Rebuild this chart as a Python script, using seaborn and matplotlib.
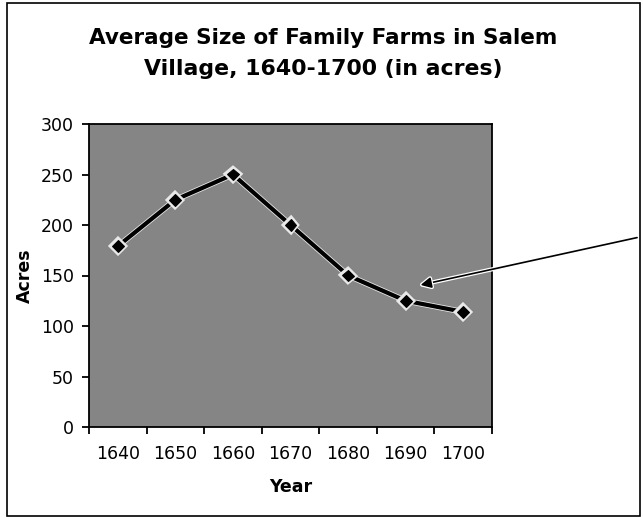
import pandas as pd
import matplotlib
matplotlib.use("Agg")
import matplotlib.pyplot as plt
import matplotlib.patheffects as pe
from matplotlib.patches import Rectangle
import seaborn as sns

# valores
years = ["1640", "1650", "1660", "1670", "1680", "1690", "1700"]
acres = [179, 225, 250, 200, 150, 125, 114]
y_ticks = [0, 50, 100, 150, 200, 250, 300]

title_lines = ["Average Size of Family Farms in Salem", "Village, 1640-1700 (in acres)"]

df = pd.DataFrame({"Year": years, "Acres": acres})

sns.set_style("white")
plt.rcParams["font.family"] = ["DejaVu Sans"]
plt.rcParams["text.color"] = "black"
plt.rcParams["axes.labelcolor"] = "black"
plt.rcParams["xtick.color"] = "black"
plt.rcParams["ytick.color"] = "black"

fig = plt.figure(figsize=(6.43, 5.18), dpi=100)
ax = fig.add_axes([89 / 643, 1 - 427 / 518, (492 - 89) / 643, (427 - 124) / 518])
ax.set_facecolor("#858585")

sns.lineplot(data=df, x="Year", y="Acres", ax=ax, color="black", linewidth=3,
             marker="D", markersize=6, markeredgecolor="black",
             path_effects=[pe.Stroke(linewidth=4.2, foreground="#e8e8e8"), pe.Normal()])

ax.set_xlim(-0.5, len(years) - 0.5)
ax.set_ylim(0, 300)
ax.set_yticks(y_ticks)
ax.set_yticklabels([str(v) for v in y_ticks], fontsize=12.5)

# ticks entre categorias, etiquetas centradas
ax.set_xticks([i - 0.5 for i in range(len(years) + 1)])
ax.set_xticklabels([])
ax.set_xticks(range(len(years)), minor=True)
ax.set_xticklabels(years, minor=True, fontsize=12.5)
ax.tick_params(axis="x", which="major", bottom=True, direction="out", length=5, width=1.3)
ax.tick_params(axis="x", which="minor", bottom=True, length=0, pad=13)
ax.tick_params(axis="y", left=True, direction="out", length=5, width=1.3, pad=6)

for s in ax.spines.values():
    s.set_visible(True)
    s.set_color("black")
    s.set_linewidth(1.3)

ax.set_xlabel("Year", fontsize=12.5, fontweight="bold", labelpad=11)
ax.set_ylabel("Acres", fontsize=12.5, fontweight="bold", labelpad=5)

# titulo en dos lineas, ajustado al ancho del original
renderer = fig.canvas.get_renderer()
widths = [468, 357]
baselines = [44, 75]
for line, w, b in zip(title_lines, widths, baselines):
    t = fig.text(323 / 643, 1 - b / 518, line, ha="center", va="baseline",
                 fontsize=10, fontweight="bold")
    cur = t.get_window_extent(renderer).width
    t.set_fontsize(10 * w / cur)

# flecha desde el borde derecho
ax.annotate("", xy=(5.21, 140), xycoords="data",
            xytext=(0.995, 1 - 237 / 518), textcoords="figure fraction",
            arrowprops=dict(arrowstyle="-|>", color="black", lw=1.2, mutation_scale=16,
                            path_effects=[pe.Stroke(linewidth=3, foreground="white"), pe.Normal()]),
            annotation_clip=False)

# marco de la figura
fig.patches.append(Rectangle((7 / 643, 2 / 518), 633 / 643, 513 / 518,
                             transform=fig.transFigure, fill=False,
                             edgecolor="black", linewidth=1.2))

fig.savefig("out.png", dpi=100)
plt.close(fig)
